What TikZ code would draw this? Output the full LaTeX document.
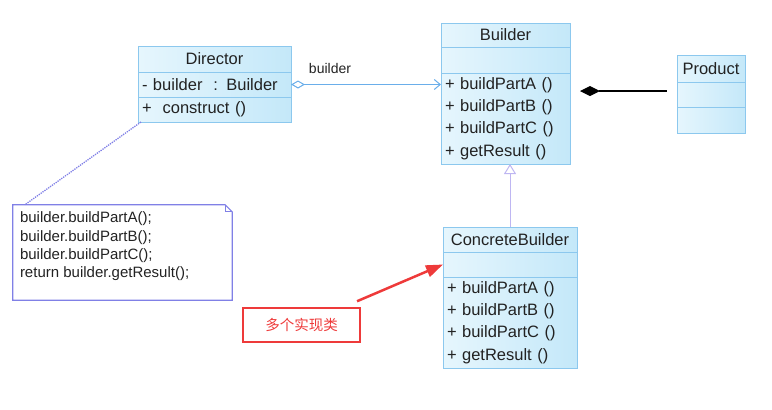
\documentclass[tikz,border=0pt]{standalone}
\usepackage{fontspec}
\setmainfont{Liberation Sans}
\newfontfamily\cjkfont{Noto Sans CJK SC}
\usetikzlibrary{positioning,arrows.meta}
\definecolor{umlline}{HTML}{8CC8EE}
\definecolor{umllight}{HTML}{E6F6FD}
\definecolor{umlfill}{HTML}{C4E8F9}
\definecolor{umltext}{HTML}{222222}
\definecolor{assocline}{HTML}{6AAEEA}
\definecolor{noteline}{HTML}{8080E6}
\definecolor{genline}{HTML}{BEB6F2}
\definecolor{markred}{HTML}{EE3A3A}
\newcommand{\classfont}{\fontsize{16.5}{22.3}\selectfont}
\newcommand{\notefont}{\fontsize{15}{18.3}\selectfont}
\tikzset{
  classhead/.style={draw=umlline, left color=umllight, right color=umlfill, text=umltext, outer sep=0pt, inner sep=0pt, minimum height=#1, font=\classfont, align=center},
  classpart/.style={draw=umlline, left color=umllight, right color=umlfill, text=umltext, outer sep=0pt, inner xsep=4pt, inner ysep=0pt, minimum height=#1, font=\classfont, align=left},
  assocarrow/.style={{Diamond[open, length=14pt, width=8pt]}-{Straight Barb[length=6pt, width=10pt]}, draw=assocline, line width=1pt},
  comparrow/.style={{Diamond[length=20pt, width=10pt]}-, black, line width=1.2pt},
  genarrow/.style={-{Triangle[open, length=10pt, width=12pt, fill=white]}, draw=genline, line width=1pt},
  notelink/.style={densely dotted, draw=noteline, line width=1.3pt},
  notebox/.style={minimum width=219pt, minimum height=95pt, inner sep=0pt, text=umltext, font=\notefont},
  redbox/.style={draw=markred, line width=2.5pt, text=markred, minimum width=117pt, minimum height=34pt, font=\cjkfont\fontsize{14.5}{16}\selectfont},
  redarrow/.style={-{Triangle[length=17pt, width=12pt]}, draw=markred, fill=markred, line width=2.5pt}
}
\begin{document}
\begin{tikzpicture}[x=1pt, y=-1pt]
  \useasboundingbox (0,0) rectangle (772,410);
  % Director
  \node[classhead=26pt, minimum width=153pt] (dirhead) at (214.5,59) {Director};
  \node[classpart=25pt, text width=145pt, below=0pt of dirhead] (dirattr) {- builder\ \ : Builder};
  \node[classpart=25pt, text width=145pt, below=0pt of dirattr] (dirmeth) {+\ \ construct ()};
  % Builder
  \node[classhead=24pt, minimum width=129pt] (bldhead) at (505.5,35) {Builder};
  \node[classpart=26pt, text width=121pt, below=0pt of bldhead] (bldattr) {};
  \node[classpart=91pt, text width=121pt, below=0pt of bldattr] (bldmeth) {+ buildPartA ()\\+ buildPartB ()\\+ buildPartC ()\\+ getResult ()};
  % Product
  \node[classhead=27pt, minimum width=68pt] (prodhead) at (711,68.5) {Product};
  \node[classpart=25pt, text width=60pt, below=0pt of prodhead] (prodattr) {};
  \node[classpart=26pt, text width=60pt, below=0pt of prodattr] (prodmeth) {};
  % ConcreteBuilder
  \node[classhead=25pt, minimum width=134pt] (cbhead) at (510,239.5) {ConcreteBuilder};
  \node[classpart=25pt, text width=126pt, below=0pt of cbhead] (cbattr) {};
  \node[classpart=91pt, text width=126pt, below=0pt of cbattr] (cbmeth) {+ buildPartA ()\\+ buildPartB ()\\+ buildPartC ()\\+ getResult ()};
  % note
  \node[notebox] (note) at (122.5,252.5) {\parbox[c][95pt][t]{205pt}{\vspace*{7pt}builder.buildPartA();\\builder.buildPartB();\\builder.buildPartC();\\return builder.getResult();}};
  \draw[draw=noteline, line width=1.2pt] (note.north west) -- ([xshift=-7pt]note.north east) -- ([yshift=-7pt]note.north east) -- (note.south east) -- (note.south west) -- cycle;
  \draw[draw=noteline, line width=0.8pt] ([xshift=-7pt]note.north east) |- ([yshift=-7pt]note.north east);
  \node[redbox] (redmark) at (301.5,325) {多个实现类};
  \node[font=\fontsize{14}{16}\selectfont, text=umltext] (assoclabel) at (330,68) {builder};
  \coordinate (compend) at (667,91);
  % connectors
  \draw[assocarrow] (dirattr.east) -- (dirattr.east -| bldmeth.west);
  \draw[comparrow, shorten <=10pt] (compend -| bldmeth.east) -- (compend);
  \draw[genarrow] (cbhead.north) -- (cbhead.north |- bldmeth.south);
  \draw[notelink] ([xshift=3pt]dirmeth.south west) -- ([xshift=12pt]note.north west);
  \draw[redarrow, shorten <=14pt] (redmark) -- (cbattr.west);
\end{tikzpicture}
\end{document}
